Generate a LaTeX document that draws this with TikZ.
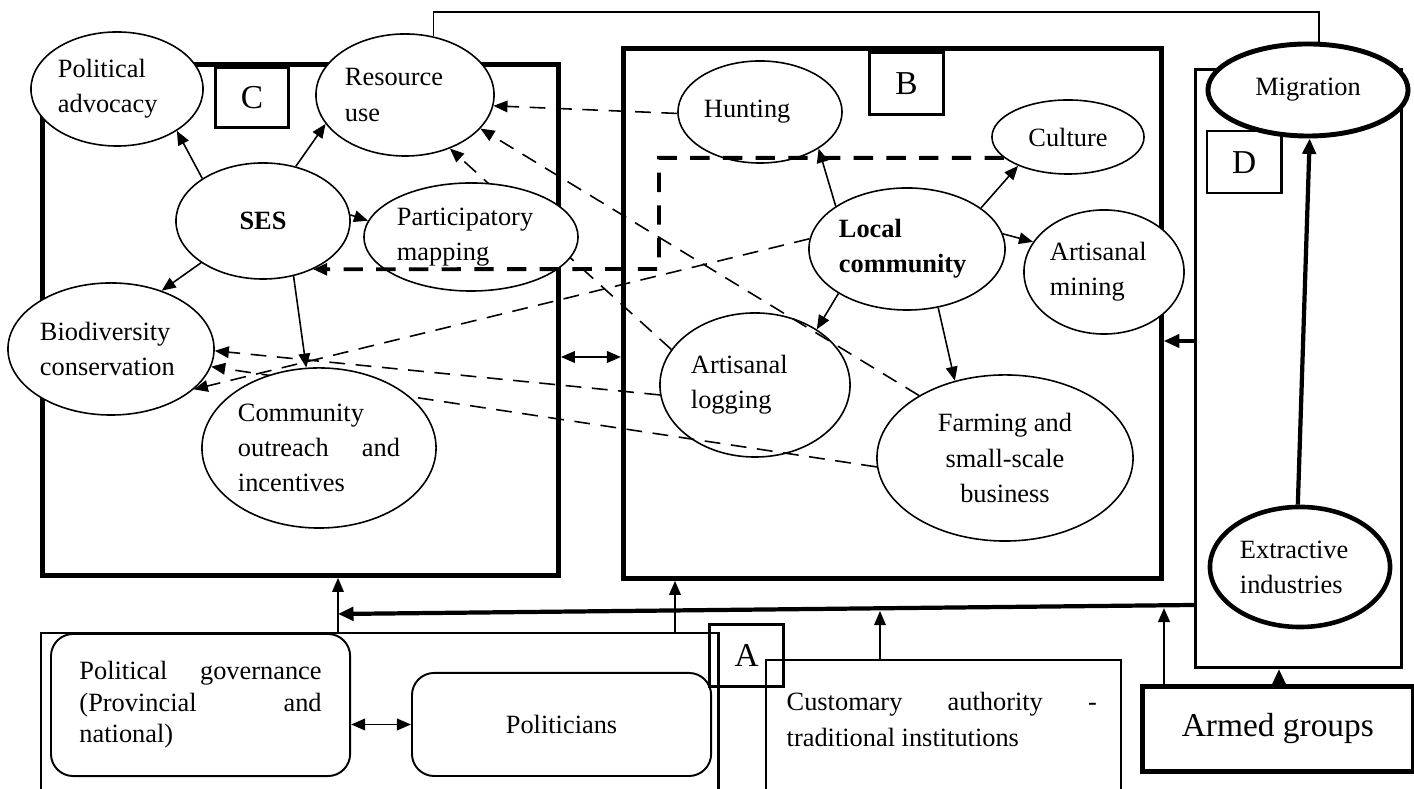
\documentclass[tikz,border=0pt]{standalone}
\usepackage{fontspec}
\setmainfont{Liberation Serif}
\usetikzlibrary{arrows.meta,shapes.geometric}
\pgfdeclarelayer{under}
\pgfsetlayers{under,main}

\begin{document}
\begin{tikzpicture}[x=0.01cm, y=-0.01cm,
  bubble/.style={ellipse, draw, line width=0.45pt, fill=white, inner sep=0pt, align=left, font=\fontsize{7.5}{10}\selectfont},
  heavy/.style={bubble, line width=1.4pt},
  frame/.style={draw, line width=1.3pt, inner sep=0pt, anchor=north west},
  tag/.style={draw, line width=0.9pt, inner sep=0pt, anchor=north west, font=\fontsize{9.5}{11}\selectfont},
  rbox/.style={draw, rounded corners=6.3pt, line width=0.55pt, inner sep=0pt, anchor=north west, align=justify, font=\fontsize{7.5}{9}\selectfont},
  arr/.style={-{Triangle[length=4pt, width=3.3pt]}, line width=0.45pt},
  dasharr/.style={arr, dash pattern=on 4.5pt off 3pt},
  thickdash/.style={arr, line width=1.1pt, dash pattern=on 5.5pt off 3.8pt},
  dblarr/.style={{Triangle[length=4pt, width=3.3pt]}-{Triangle[length=4pt, width=3.3pt]}, line width=0.55pt},
  bigarr/.style={-{Triangle[length=4.4pt, width=3.8pt]}, line width=0.9pt}
]
\useasboundingbox (0,0) rectangle (1414,789);

\node[frame, minimum width=5.16cm, minimum height=5.11cm] (cbox) at (40,62) {};
\node[frame, minimum width=5.38cm, minimum height=5.30cm] (bbox) at (621,46) {};
\node[frame, line width=0.8pt, minimum width=2.06cm, minimum height=5.98cm] (dbox) at (1194,68) {};
\node[frame, line width=0.6pt, minimum width=6.77cm, minimum height=3cm] (aouter) at (40,632) {};
\node[frame, line width=0.45pt, minimum width=3.55cm, minimum height=2cm] (cust) at (765,659) {};
\node[frame, minimum width=2.71cm, minimum height=0.85cm, anchor=north west, font=\fontsize{9.5}{11}\selectfont] (armed) at (1140,684) {Armed groups};

\node[tag, minimum width=0.73cm, minimum height=0.60cm] (ctag) at (214,66) {C};
\node[tag, minimum width=0.74cm, minimum height=0.62cm] (btag) at (868,51) {B};
\node[tag, line width=0.7pt, minimum width=0.74cm, minimum height=0.62cm] (dtag) at (1206,130) {D};
\node[tag, minimum width=0.74cm, minimum height=0.62cm] (atag) at (708,623) {A};

\node[rbox, minimum width=2.99cm, minimum height=1.42cm, text width=2.42cm] (pg) at (50,633) {Political governance\linebreak (Provincial and\linebreak national)};
\node[rbox, align=center, minimum width=2.99cm, minimum height=1.03cm] (pol) at (411,672) {Politicians};
\node[anchor=north west, inner sep=0pt, text width=3.10cm, align=justify, font=\fontsize{7.5}{10}\selectfont] (custtxt) at (786,692) {Customary authority -\linebreak traditional institutions};

\node[bubble, minimum width=1.72cm, minimum height=1.14cm, text width=1.18cm] (padv) at (117,89) {Political\\advocacy};
\node[bubble, minimum width=1.78cm, minimum height=1.22cm, text width=1.20cm] (res) at (405,95) {Resource\\use};
\node[bubble, align=center, minimum width=1.74cm, minimum height=1.16cm] (ses) at (263,221) {\textbf{SES}};
\node[bubble, minimum width=2.14cm, minimum height=1.08cm, text width=1.48cm] (pm) at (471,237) {Participatory\\mapping};
\node[bubble, minimum width=2.06cm, minimum height=1.32cm, text width=1.42cm] (bio) at (111,349) {Biodiversity\\conservation};
\node[bubble, align=justify, minimum width=2.34cm, minimum height=1.60cm, text width=1.62cm] (co) at (319,448) {Community\linebreak outreach and\linebreak incentives};

\node[bubble, minimum width=1.64cm, minimum height=1.02cm, text width=1.12cm] (hunt) at (760,112) {Hunting};
\node[bubble, align=center, minimum width=1.52cm, minimum height=0.74cm] (cult) at (1068,137) {Culture};
\node[bubble, font=\fontsize{7.5}{10}\selectfont\bfseries, minimum width=1.96cm, minimum height=1.22cm, text width=1.36cm] (lc) at (907,249) {Local\\community};
\node[bubble, minimum width=1.60cm, minimum height=1.24cm, text width=1.08cm] (mine) at (1104,272) {Artisanal\\mining};
\node[bubble, fill=none, minimum width=1.90cm, minimum height=1.44cm, text width=1.28cm] (log) at (755,385) {Artisanal\\logging};
\node[bubble, align=center, minimum width=2.56cm, minimum height=1.66cm] (farm) at (1005,458) {Farming and\\small-scale\\business};

\node[heavy, align=center, minimum width=2.00cm, minimum height=0.92cm] (mig) at (1308,90) {Migration};
\node[heavy, line width=1.3pt, minimum width=1.80cm, minimum height=1.20cm, text width=1.20cm] (ext) at (1300,567) {Extractive\\industries};

\draw[arr] (ses.145) -- (padv.-35);
\draw[arr] (ses.59) -- (res.200);
\draw[arr] (ses.4) -- (pm.171);
\draw[arr] (ses.214) -- (bio.49);
\draw[arr] (ses.-61) -- (co.99);

\draw[arr] (lc.149) -- (hunt.-32);
\draw[arr] (lc.29) -- (cult.210);
\draw[arr] (lc.9) -- (mine.157);
\draw[arr] (lc.213) -- (log.42);
\draw[arr] (lc.-62) -- (farm.123);

\begin{pgfonlayer}{under}
\draw[dasharr] (hunt.181) -- (res.-7);
\draw[dasharr] (farm.144) -- (res.-24);
\draw[dasharr] (log.157) -- (res.-50);
\draw[dasharr] (lc.174) -- (bio.-26);
\draw[dasharr] (log.186) -- (bio.-1);
\draw[dasharr] (farm.184) -- (bio.-10);
\end{pgfonlayer}

\coordinate (elbow) at (659,269);
\draw[thickdash] (cult.198) -| (elbow) -- (ses.-44);

\coordinate (topline) at (433,12);
\draw[line width=0.45pt] (res.64) |- (topline) -| (mig.77);

\draw[dblarr] (cbox.east |- 0,357) -- (bbox.west |- 0,357);
\draw[dblarr] (pg.east |- pol.west) -- (pol.west);

\coordinate (join) at (338,614);
\coordinate (hit1) at (880,611);
\coordinate (hit2) at (1164,608);
\draw[bigarr] (dbox.west |- 0,341) -- (bbox.east |- 0,341);
\draw[bigarr, line width=1.2pt] (dbox.west |- 0,605) -- (join);
\draw[arr] (aouter.north -| join) -- (cbox.south -| join);
\draw[arr, line width=0.6pt] (aouter.north -| 675,0) -- (bbox.south -| 675,0);
\draw[arr] (cust.north -| hit1) -- (hit1);
\draw[arr, line width=0.7pt] (armed.north -| hit2) -- (hit2);
\draw[bigarr] (armed.north -| 1279,0) -- (dbox.south -| 1279,0);
\draw[bigarr, line width=1.2pt] (ext.92) -- (mig.-88);

\end{tikzpicture}
\end{document}
